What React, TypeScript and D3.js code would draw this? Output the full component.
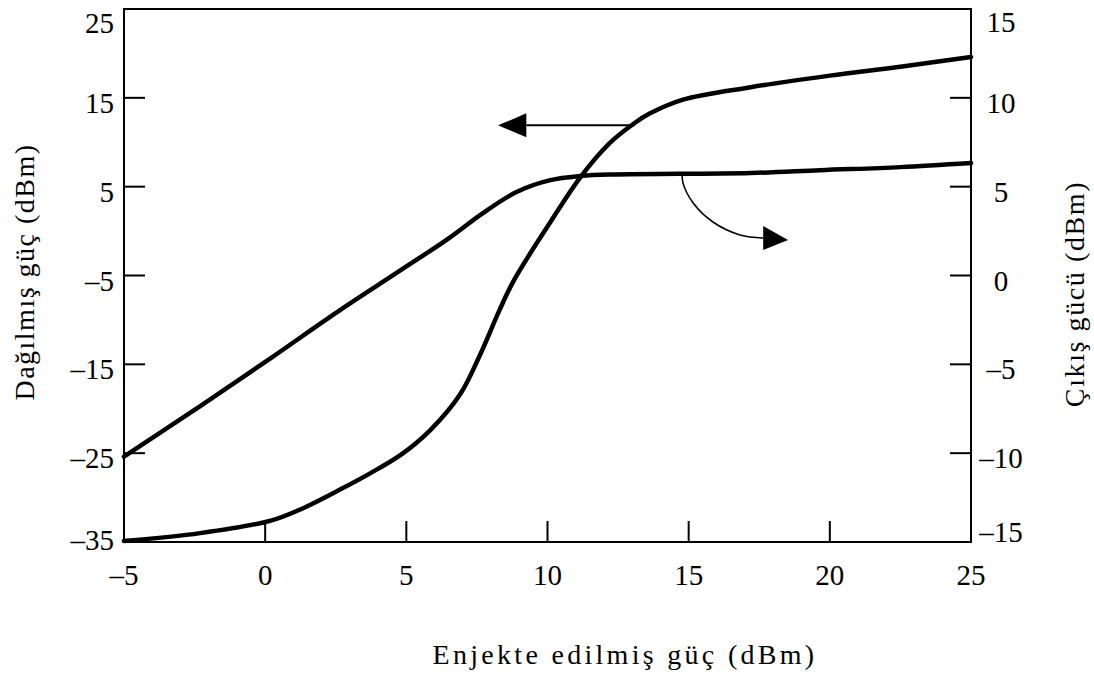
import React, { useEffect, useRef } from 'react';
import * as d3 from 'd3';

// injected power (dBm) for each curve
const dissX = [-5, -2.3, 0.2, 1.2, 2.65, 3.7, 4.8, 5.85, 6.9, 7.6, 8.3, 8.8, 10.1, 11.15, 12.2, 13.1, 13.6, 14.8, 17.2, 20, 22.5, 25];
// dissipated power (dBm), left axis
const dissY = [-34.9, -34.0, -32.6, -31.4, -29.1, -27.3, -25.2, -22.4, -18.4, -14.0, -8.9, -5.6, 1.0, 6.0, 9.9, 12.2, 13.2, 14.8, 16.2, 17.5, 18.5, 19.6];

const outX = [-5, -2.3, 0.2, 2.65, 4.8, 6.55, 7.7, 8.9, 10.1, 11.15, 12.2, 17.2, 19.65, 22.5, 25];
// output power (dBm), right axis
const outY = [-10.2, -7.35, -4.65, -1.95, 0.3, 2.15, 3.5, 4.7, 5.37, 5.6, 5.68, 5.77, 5.93, 6.1, 6.33];

const xTicks = [-5, 0, 5, 10, 15, 20, 25];
const leftTicks = [-35, -25, -15, -5, 5, 15, 25];
const rightTicks = [-15, -10, -5, 0, 5, 10, 15];

// annotation arrows, in data units (x, left axis)
const leftArrow = { from: [13.1, 11.9], to: [9.25, 11.9], tip: [8.25, 11.9] };
const rightArrowPath = [[14.77, 6.4], [14.8, 5.4], [15.16, 3.16], [15.86, 1.02], [16.82, -0.44], [17.64, -0.78]];
const rightArrowTip = [18.52, -1.0];

const App = () => {
  const svgRef = useRef(null);
  const width = 1094;
  const height = 674;

  useEffect(() => {
    document.body.style.margin = '0';
    const svg = d3.select(svgRef.current);
    svg.selectAll('*').remove();

    const left = 124, right = 971, top = 9, bottom = 542;
    const font = "'Liberation Serif', 'Times New Roman', serif";

    const x = d3.scaleLinear().domain([-5, 25]).range([left, right]);
    const yL = d3.scaleLinear().domain([-35, 25]).range([bottom, top]);
    const yR = d3.scaleLinear().domain([-15, 15]).range([bottom, top]);

    svg.append('rect').attr('width', width).attr('height', height).attr('fill', '#fff');

    // frame
    svg.append('rect')
      .attr('x', left).attr('y', top)
      .attr('width', right - left).attr('height', bottom - top)
      .attr('fill', 'none').attr('stroke', '#000').attr('stroke-width', 2);

    const tickLen = 21;
    const g = svg.append('g').attr('stroke', '#000').attr('stroke-width', 2);
    g.selectAll('.xt').data(xTicks.slice(1, -1)).enter().append('line')
      .attr('x1', d => x(d)).attr('x2', d => x(d))
      .attr('y1', bottom).attr('y2', bottom - tickLen);
    g.selectAll('.lt').data(leftTicks.slice(1, -1)).enter().append('line')
      .attr('x1', left).attr('x2', left + tickLen)
      .attr('y1', d => yL(d)).attr('y2', d => yL(d));
    g.selectAll('.rt').data(rightTicks.slice(1, -1)).enter().append('line')
      .attr('x1', right - tickLen).attr('x2', right)
      .attr('y1', d => yR(d)).attr('y2', d => yR(d));

    const fmt = (d) => (d < 0 ? '\u2013' + Math.abs(d) : String(d));
    const labels = svg.append('g').attr('font-family', font).attr('font-size', 29).attr('fill', '#000');

    labels.selectAll('.xl').data(xTicks).enter().append('text')
      .attr('x', d => x(d)).attr('y', 585)
      .attr('text-anchor', 'middle').text(fmt);
    labels.selectAll('.ll').data(leftTicks).enter().append('text')
      .attr('x', 114).attr('y', d => Math.min(Math.max(yL(d) + 15, 33), 550))
      .attr('text-anchor', 'end').text(fmt);
    labels.selectAll('.rl').data(rightTicks).enter().append('text')
      .attr('x', 1001).attr('y', d => Math.min(Math.max(yR(d) + 5, 22), 532))
      .attr('dy', '0.35em')
      .attr('text-anchor', 'middle').text(fmt);

    // axis titles
    svg.append('text')
      .attr('x', 625).attr('y', 664)
      .attr('text-anchor', 'middle')
      .attr('font-family', font).attr('font-size', 28).attr('letter-spacing', 3.3)
      .text('Enjekte edilmiş güç (dBm)');
    svg.append('text')
      .attr('transform', 'translate(24, 272) rotate(-90)')
      .attr('text-anchor', 'middle').attr('dy', '0.35em')
      .attr('font-family', font).attr('font-size', 28).attr('letter-spacing', 1.5)
      .text('Dağılmış güç (dBm)');
    svg.append('text')
      .attr('transform', 'translate(1074, 294) rotate(-90)')
      .attr('text-anchor', 'middle').attr('dy', '0.35em')
      .attr('font-family', font).attr('font-size', 28).attr('letter-spacing', 1.6)
      .text('Çıkış gücü (dBm)');

    // curves
    const dissLine = d3.line()
      .x((d, i) => x(dissX[i]))
      .y(d => yL(d))
      .curve(d3.curveCatmullRom.alpha(0.5));
    svg.append('path')
      .datum(dissY)
      .attr('fill', 'none').attr('stroke', '#000').attr('stroke-width', 4.5)
      .attr('stroke-linejoin', 'round').attr('stroke-linecap', 'round')
      .attr('d', dissLine);

    const outLine = d3.line()
      .x((d, i) => x(outX[i]))
      .y(d => yR(d))
      .curve(d3.curveMonotoneX);
    svg.append('path')
      .datum(outY)
      .attr('fill', 'none').attr('stroke', '#000').attr('stroke-width', 4.5)
      .attr('stroke-linejoin', 'round').attr('stroke-linecap', 'round')
      .attr('d', outLine);

    // arrow to left axis
    svg.append('line')
      .attr('x1', x(leftArrow.from[0])).attr('y1', yL(leftArrow.from[1]))
      .attr('x2', x(leftArrow.to[0])).attr('y2', yL(leftArrow.to[1]))
      .attr('stroke', '#000').attr('stroke-width', 2);
    const tx = x(leftArrow.tip[0]), ty = yL(leftArrow.tip[1]), bx = x(leftArrow.to[0]);
    svg.append('path')
      .attr('d', `M${tx},${ty}L${bx},${ty - 12}L${bx},${ty + 12}Z`)
      .attr('fill', '#000');

    // arrow to right axis
    const arcLine = d3.line()
      .x(d => x(d[0]))
      .y(d => yL(d[1]))
      .curve(d3.curveCatmullRom);
    svg.append('path')
      .datum(rightArrowPath)
      .attr('fill', 'none').attr('stroke', '#000').attr('stroke-width', 1.6)
      .attr('d', arcLine);
    const rtx = x(rightArrowTip[0]), rty = yL(rightArrowTip[1]);
    const last = rightArrowPath[rightArrowPath.length - 1];
    const rbx = x(last[0]), rby = yL(last[1]);
    svg.append('path')
      .attr('d', `M${rtx},${rty}L${rbx},${rby - 12}L${rbx},${rby + 12}Z`)
      .attr('fill', '#000');
  }, []);

  return <svg ref={svgRef} width={width} height={height} style={{ display: 'block' }}></svg>;
};

export default App;
